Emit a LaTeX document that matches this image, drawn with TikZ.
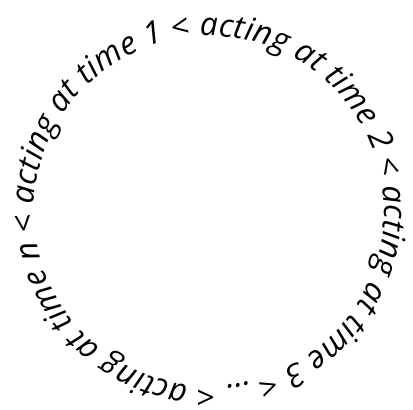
\documentclass[tikz,border=0pt]{standalone}
\usepackage{fontspec}
\newfontfamily\ringfont{Open Sans}
\usetikzlibrary{decorations.text}

\begin{document}
\begin{tikzpicture}[x=1pt,y=1pt,
  ring/.style={decorate,decoration={text along path,
               text={|\ringfont\itshape\fontsize{32}{34}\selectfont|acting at time 1 < acting at time 2 < acting at time 3 < ... < acting at time n <},
               text align=fit to path}}
]
  \useasboundingbox (0,0) rectangle (413,410);
  %% ---- centre of the ring ----
  \coordinate (mid) at (209,199);

  %% ---- text running clockwise round the ring ----
  \path[ring] (mid) ++(178:175) arc[start angle=178,end angle=-179,radius=175];
\end{tikzpicture}
\end{document}
